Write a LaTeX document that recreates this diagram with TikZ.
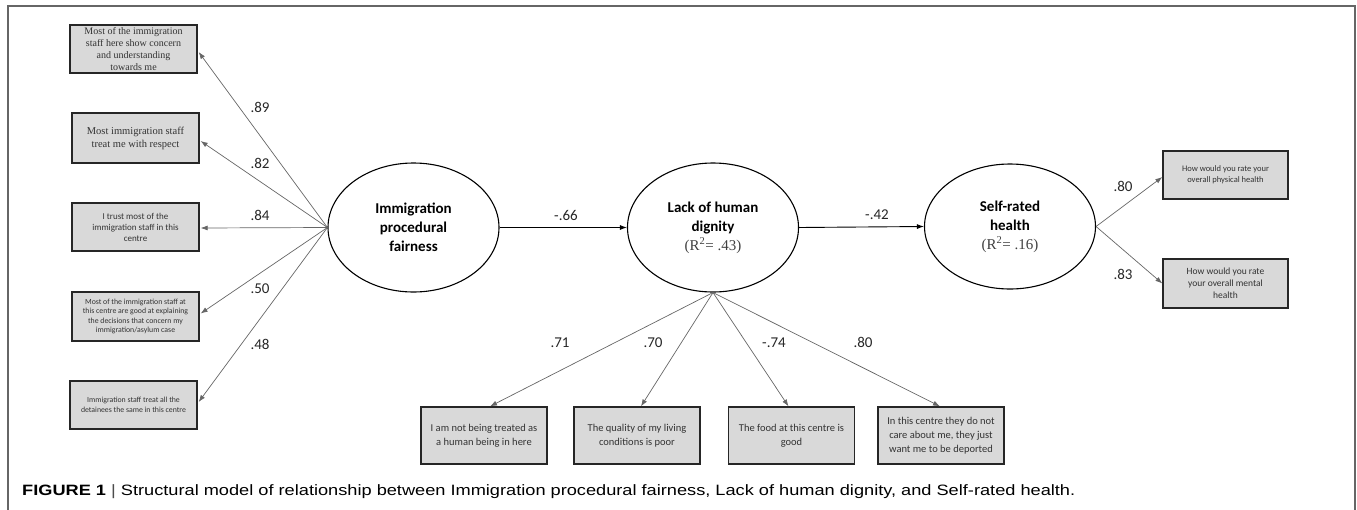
\documentclass[tikz,border=0pt]{standalone}
\usepackage{fontspec}
\usepackage{graphicx}
\setmainfont{Carlito}
\newfontfamily\seriffont{Liberation Serif}
\newfontfamily\capfont{Liberation Sans}
\usetikzlibrary{arrows.meta,shapes.geometric}
\definecolor{boxfill}{HTML}{D9D9D9}
\definecolor{boxtext}{HTML}{333333}
\definecolor{framegray}{HTML}{666666}
\tikzset{
  obs/.style={draw=black!85,line width=1.3pt,fill=boxfill,align=center,inner sep=0pt,text=boxtext},
  lat/.style={draw=black,line width=1.1pt,ellipse,inner sep=0pt,align=center,minimum width=171pt,minimum height=129pt,font=\fontsize{15}{19}\selectfont\bfseries},
  load/.style={draw=black!60,line width=0.7pt,-{Latex[length=7pt,width=5pt]}},
  path/.style={draw=black,line width=0.9pt,-{Latex[length=7pt,width=5pt]}},
  coef/.style={font=\fontsize{15}{15}\selectfont,text=black!85,inner sep=0pt}
}
\newcommand{\rsq}[1]{{\seriffont\mdseries\color{black!75}(R\textsuperscript{2}= #1)}}
\begin{document}
\begin{tikzpicture}[x=1pt,y=-1pt]
\useasboundingbox (0,0) rectangle (1357,509);
% frame
\draw[framegray,line width=1.5pt] (8,512) -- (8,6) -- (1355,6) -- (1355,512);

% latent variables
\node[lat] (e1) at (413.5,227.5) {Immigration\\procedural\\fairness};
\node[lat] (e2) at (713,227.5) {Lack of human\\dignity\\\rsq{.43}};
\node[lat,minimum height=125pt] (e3) at (1010,226.5) {Self-rated\\health\\\rsq{.16}};

% left indicators
\node[obs,minimum width=127pt,minimum height=48pt,font=\seriffont\fontsize{10}{12}\selectfont] (b1) at (133.5,49) {Most of the immigration\\staff here show concern\\and understanding\\towards me};
\node[obs,minimum width=127pt,minimum height=50pt,font=\seriffont\fontsize{10.5}{13}\selectfont] (b2) at (135.5,138) {Most immigration staff\\treat me with respect};
\node[obs,minimum width=127pt,minimum height=48pt,font=\fontsize{9}{11}\selectfont] (b3) at (135.5,227) {I trust most of the\\immigration staff in this\\centre};
\node[obs,minimum width=127pt,minimum height=49pt,font=\fontsize{7.8}{9.5}\selectfont] (b4) at (135.5,316.5) {Most of the immigration staff at\\this centre are good at explaining\\the decisions that concern my\\immigration/asylum case};
\node[obs,minimum width=127pt,minimum height=48pt,font=\fontsize{7.8}{9.5}\selectfont] (b5) at (133.5,405) {Immigration staff treat all the\\detainees the same in this centre};

% bottom indicators
\tikzset{bot/.style={obs,minimum width=126pt,minimum height=57pt,font=\fontsize{10.5}{14}\selectfont}}
\node[bot] (bA) at (484,435.5) {I am not being treated as\\a human being in here};
\node[bot] (bB) at (637,435.5) {The quality of my living\\conditions is poor};
\node[bot] (bC) at (791.5,435.5) {The food at this centre is\\good};
\node[bot] (bD) at (941,435.5) {In this centre they do not\\care about me, they just\\want me to be deported};

% right indicators
\node[obs,minimum width=125pt,minimum height=48pt,font=\fontsize{8.5}{11}\selectfont] (r1) at (1225.5,175) {How would you rate your\\overall physical health};
\node[obs,minimum width=125pt,minimum height=49pt,font=\fontsize{9.5}{12}\selectfont] (r2) at (1225.5,283.5) {How would you rate\\your overall mental\\health};

% loadings from e1
\coordinate (o1) at (e1.west);
\draw[load] (o1) -- ([yshift=-3pt,xshift=1pt]b1.east);
\draw[load] (o1) -- ([yshift=-3pt,xshift=1pt]b2.east);
\draw[load] (o1) -- ([yshift=-1pt,xshift=1pt]b3.east);
\draw[load] (o1) -- ([yshift=3pt,xshift=1pt]b4.east);
\draw[load] (o1) -- ([yshift=3pt,xshift=1pt]b5.east);
\node[coef] (l1) at (260,107) {.89};
\node[coef] (l2) at (260,163) {.82};
\node[coef] (l3) at (260,215) {.84};
\node[coef] (l4) at (260,289) {.50};
\node[coef] (l5) at (260,344) {.48};

% structural paths
\draw[path] (e1.east) -- (e2.west);
\draw[path] (e2.east) -- (e3.west);
\node[coef] (p1) at (566,215) {-.66};
\node[coef] (p2) at (877,215) {-.42};

% loadings from e2
\coordinate (o2) at (e2.south);
\draw[load] (o2) -- ([xshift=6pt]bA.north);
\draw[load] (o2) -- ([xshift=4pt]bB.north);
\draw[load] (o2) -- ([xshift=-3pt]bC.north);
\draw[load] (o2) -- ([xshift=-1pt]bD.north);
\node[coef] (lA) at (560,343) {.71};
\node[coef] (lB) at (653,343) {.70};
\node[coef] (lC) at (774,343) {-.74};
\node[coef] (lD) at (863,342) {.80};

% loadings from e3
\coordinate (o3) at (e3.east);
\draw[load] (o3) -- ([yshift=-2pt]r1.west);
\draw[load] (o3) -- (r2.west);
\node[coef] (lR1) at (1123,186) {.80};
\node[coef] (lR2) at (1123,274) {.83};

% caption
\node[anchor=base west,inner sep=0pt] (cap) at (22,495) {\resizebox{1053pt}{\height}{\capfont\fontsize{15}{15}\selectfont\textbf{FIGURE 1} {\color{black!70}|} Structural model of relationship between Immigration procedural fairness, Lack of human dignity, and Self-rated health.}};
\end{tikzpicture}
\end{document}
